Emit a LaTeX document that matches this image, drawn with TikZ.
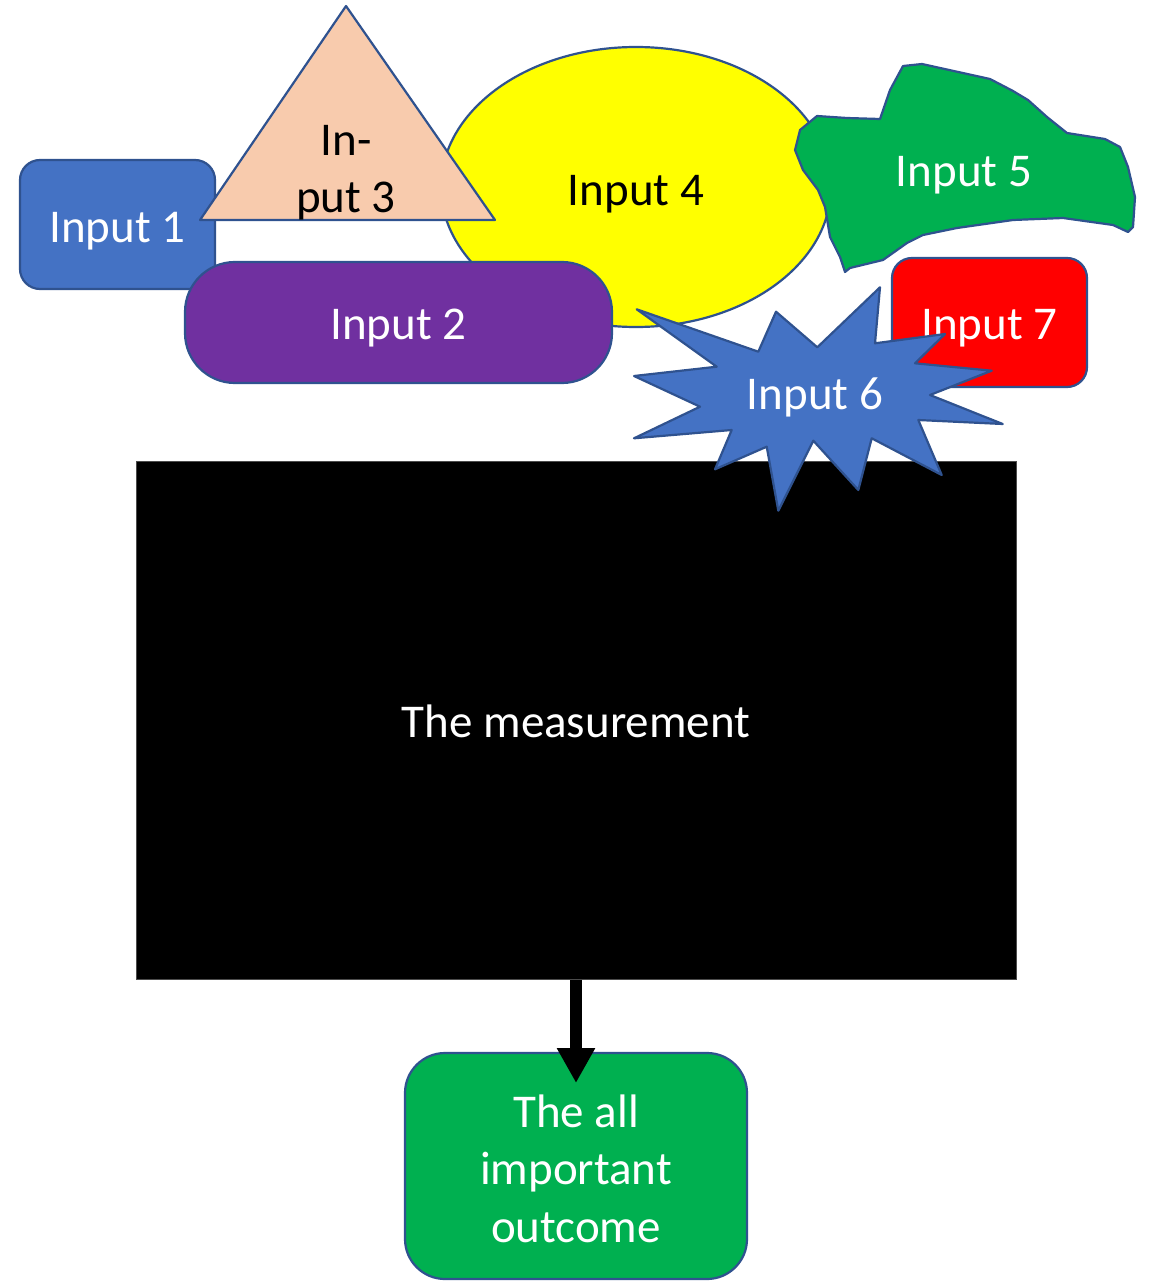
\documentclass[tikz,border=0pt]{standalone}
\usepackage{fontspec}
\setmainfont{Carlito}
\usetikzlibrary{shapes.geometric,arrows.meta}
\definecolor{edgeblue}{HTML}{2F528F}
\definecolor{boxblue}{HTML}{4472C4}
\definecolor{peach}{HTML}{F8CBAD}
\definecolor{purple2}{HTML}{7030A0}
\definecolor{green2}{HTML}{00B050}
\definecolor{yellow2}{HTML}{FFFF00}
\definecolor{red2}{HTML}{FF0000}
\begin{document}
\begin{tikzpicture}[x=1pt,y=-1pt,
  lbl/.style={font=\fontsize{47}{57.3}\selectfont, inner sep=0pt, anchor=base},
  shapeline/.style={draw=edgeblue, line width=2.2pt, line join=round},
  inbox/.style={shapeline, rectangle, inner sep=0pt}]
\useasboundingbox (0,0) rectangle (1148,1281);

% Input 1
\node[inbox, fill=boxblue, rounded corners=20pt, minimum width=195pt, minimum height=129pt]
  (in1) at (117.5,224.5) {};
\node[lbl, text=white] (in1t) at (117.5,242.5) {Input 1};

% Input 4 (ellipse)
\node[shapeline, ellipse, fill=yellow2, minimum width=390pt, minimum height=280pt, inner sep=0pt]
  (in4) at (636,187) {};
\node[lbl, text=black] (in4t) at (636,206) {Input 4};

% Input 3 (triangle)
\coordinate (t3a) at (346,6);
\coordinate (t3b) at (200,220);
\coordinate (t3c) at (495,220);
\filldraw[shapeline, fill=peach] (t3a) -- (t3b) -- (t3c) -- cycle;
\node[lbl, text=black] (in3) at (346,155.5)
  {\begin{tabular}[t]{@{}c@{}}In-\\put 3\end{tabular}};

% Input 2
\node[inbox, fill=purple2, rounded corners=50pt, minimum width=427pt, minimum height=121pt]
  (in2) at (398.5,322.5) {};
\node[lbl, text=white] (in2t) at (398.5,339.5) {Input 2};

% Input 5 (free-form blob)
\filldraw[shapeline, fill=green2]
  (903,66) -- (922,64) -- (990,79) -- (1013,91) -- (1028,100) -- (1047,117)
  -- (1067,133) -- (1105,139) -- (1120,147) -- (1128,167) -- (1135,197)
  -- (1133,227) -- (1128,232) -- (1113,225) -- (1063,218) -- (1013,220)
  -- (957,228) -- (923,235) -- (907,243) -- (883,260) -- (850,268)
  -- (845,272) -- (840,257) -- (830,237) -- (825,207) -- (818,190)
  -- (803,170) -- (795,150) -- (800,130) -- (817,116) -- (847,118)
  -- (880,119) -- (890,90) -- cycle;
\node[lbl, text=white] (in5) at (964,186.5) {Input 5};

% Input 7
\node[inbox, fill=red2, rounded corners=20pt, minimum width=195pt, minimum height=129pt]
  (in7) at (989.5,322.5) {};
\node[lbl, text=white] (in7t) at (989.5,339.5) {Input 7};

% The measurement
\node[rectangle, fill=black, draw=black!70, line width=1pt, minimum width=880pt, minimum height=518pt,
  inner sep=0pt] (meas) at (576,720) {};
\node[lbl, text=white] (meast) at (576,737) {The measurement};

% Input 6 (explosion)
\filldraw[shapeline, fill=boxblue]
  (636.7,309.3) -- (758.3,351.7) -- (776,311.7) -- (817.3,347.3) -- (880,287.3)
  -- (875,343.3) -- (945,334) -- (915,363.3) -- (991.7,370.7) -- (930,395)
  -- (1002.7,424) -- (918.3,420) -- (941.7,475) -- (871.7,438.3) -- (858.3,490)
  -- (813.3,440.7) -- (778.3,510.7) -- (766.7,446.7) -- (715,469.3) -- (731.7,430)
  -- (634,438.3) -- (700,406.7) -- (634,376) -- (716.7,366.7) -- cycle;
\node[lbl, text=white] (in6) at (815,409.5) {Input 6};

% The all important outcome
\node[inbox, fill=green2, rounded corners=40pt, minimum width=342pt, minimum height=226pt]
  (out) at (576,1166) {};
\node[lbl, text=white] (outt) at (576,1127.5)
  {\begin{tabular}[t]{@{}c@{}}The all\\important\\outcome\end{tabular}};

% Connector
\coordinate (tip) at (576,1083);
\draw[line width=12pt, -{Triangle[width=36pt,length=35pt]}] (meas.south) -- (tip);
\end{tikzpicture}
\end{document}
